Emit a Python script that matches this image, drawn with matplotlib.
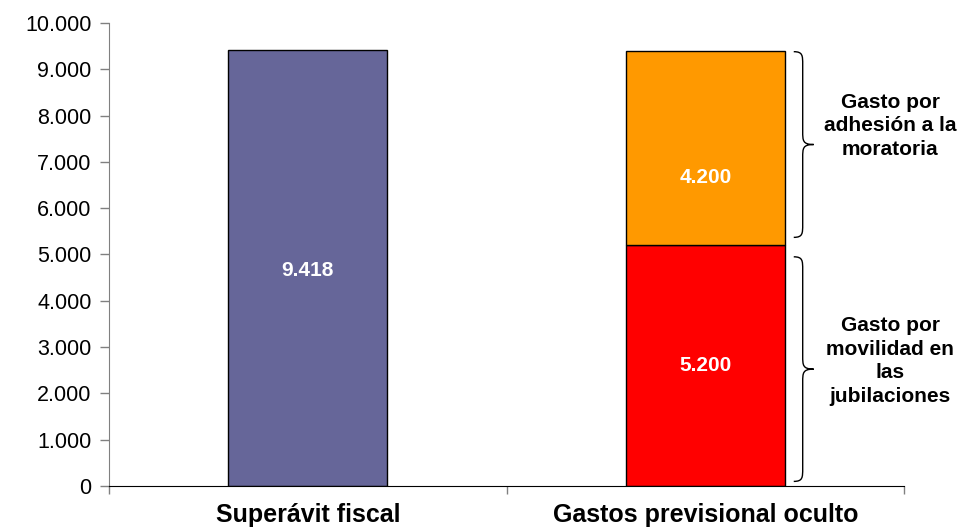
import matplotlib
matplotlib.use('Agg')
import matplotlib.pyplot as plt
from matplotlib.path import Path
from matplotlib.patches import PathPatch
from matplotlib.ticker import FuncFormatter, FixedLocator

plt.rcParams['font.family'] = ['Liberation Sans', 'DejaVu Sans']

# data
categories = ['Superávit fiscal', 'Gastos previsional oculto']
superavit = [9418]
movilidad = [5200]
moratoria = [4200]
brace_labels = ['Gasto por\nmovilidad en\nlas\njubilaciones', 'Gasto por\nadhesión a la\nmoratoria']


def miles(v, pos):
    return '{:,.0f}'.format(v).replace(',', '.')


def brace(ax, x0, y_bot, y_top, w=0.05, r=280):
    # curly brace opening to the left, pointing right
    xm = x0 + w * 0.45
    xp = x0 + w
    ym = (y_bot + y_top) / 2
    verts = [(x0, y_top),
             (xm, y_top), (xm, y_top - r * 0.3), (xm, y_top - r),
             (xm, ym + r),
             (xm, ym + r * 0.3), (xm, ym), (xp, ym),
             (xm, ym), (xm, ym - r * 0.3), (xm, ym - r),
             (xm, y_bot + r),
             (xm, y_bot + r * 0.3), (xm, y_bot), (x0, y_bot)]
    codes = [Path.MOVETO,
             Path.CURVE4, Path.CURVE4, Path.CURVE4,
             Path.LINETO,
             Path.CURVE4, Path.CURVE4, Path.CURVE4,
             Path.CURVE4, Path.CURVE4, Path.CURVE4,
             Path.LINETO,
             Path.CURVE4, Path.CURVE4, Path.CURVE4]
    ax.add_patch(PathPatch(Path(verts, codes), fill=False, lw=1.0,
                           edgecolor='black', clip_on=False))
    return ym


fig = plt.figure(figsize=(9.68, 5.28), dpi=100)
ax = fig.add_axes([0.1126, 0.0795, 0.8216, 0.877])

width = 0.4
ax.bar(0, superavit[0], width, color='#666699', edgecolor='black', lw=1)
ax.bar(1, movilidad[0], width, color='#FF0000', edgecolor='black', lw=1)
ax.bar(1, moratoria[0], width, bottom=movilidad[0], color='#FF9900',
       edgecolor='black', lw=1)

lbl = dict(color='white', fontsize=15, fontweight='bold', ha='center', va='center')
ax.text(0, superavit[0] * 0.495, miles(superavit[0], 0), **lbl)
ax.text(1, movilidad[0] / 2, miles(movilidad[0], 0), **lbl)
ax.text(1, movilidad[0] + moratoria[0] * 0.35, miles(moratoria[0], 0), **lbl)

# braces with labels
total = movilidad[0] + moratoria[0]
ym1 = brace(ax, 1.222, 100, movilidad[0] - 250)
ym2 = brace(ax, 1.222, movilidad[0] + 170, total - 20)
txt = dict(fontsize=15, fontweight='bold', ha='center', va='center',
           linespacing=1.3, clip_on=False)
ax.text(1.465, ym1 + 175, brace_labels[0], **txt)
ax.text(1.465, ym2 + 400, brace_labels[1], **txt)

ax.set_xlim(-0.5, 1.5)
ax.set_ylim(0, 10000)
ax.yaxis.set_major_locator(FixedLocator(range(0, 10001, 1000)))
ax.yaxis.set_major_formatter(FuncFormatter(miles))
ax.tick_params(axis='y', labelsize=15.5, length=6.5, width=1, color='#808080', pad=6)

ax.set_xticks([0, 1])
ax.set_xticklabels(categories, fontsize=18, fontweight='bold')
ax.set_xticks([-0.5, 0.5, 1.5], minor=True)
ax.tick_params(axis='x', which='major', length=0, pad=12)
ax.tick_params(axis='x', which='minor', length=6, width=1, color='#808080')

ax.spines['top'].set_visible(False)
ax.spines['right'].set_visible(False)
ax.spines['left'].set_color('#808080')
ax.spines['bottom'].set_color('black')

fig.savefig('out.png', dpi=100)
